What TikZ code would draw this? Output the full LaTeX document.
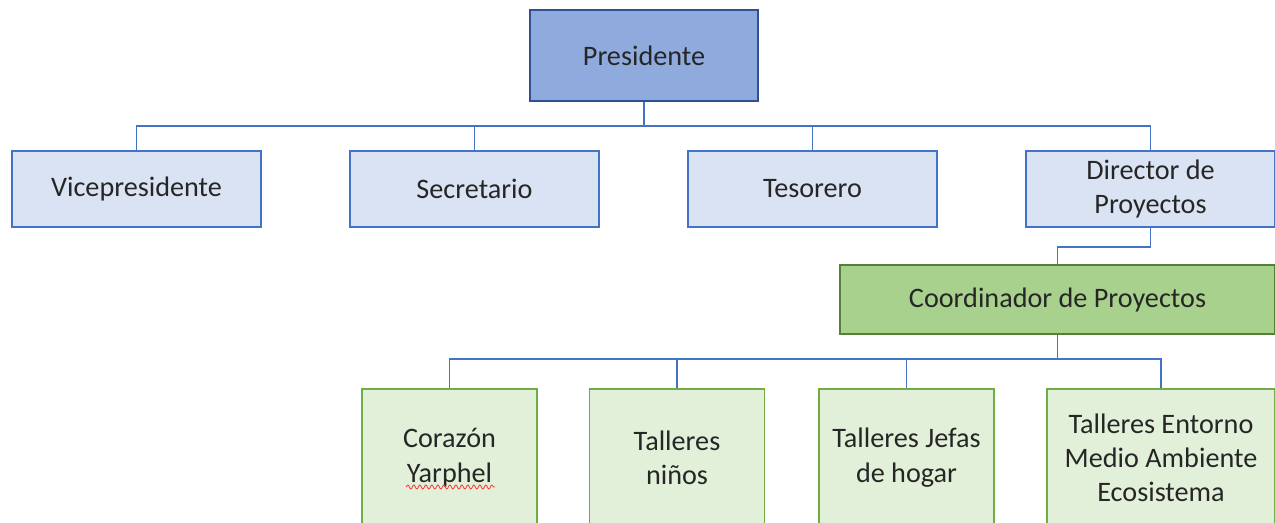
\documentclass[tikz,border=0pt]{standalone}
\usepackage{fontspec}
\setmainfont{Carlito}
\usetikzlibrary{decorations.pathmorphing}
\definecolor{presfill}{HTML}{8FAADC}
\definecolor{presline}{HTML}{2F528F}
\definecolor{bluefill}{HTML}{DAE3F3}
\definecolor{blueline}{HTML}{4472C4}
\definecolor{coordfill}{HTML}{A9D18E}
\definecolor{coordline}{HTML}{548235}
\definecolor{leaffill}{HTML}{E2F0D9}
\definecolor{leafline}{HTML}{70AD47}
\definecolor{txt}{HTML}{262626}

\begin{document}
\begin{tikzpicture}[x=0.5pt,y=-0.5pt,
    box/.style={draw, line width=0.8pt, align=center, inner sep=0pt, text=txt,
        font=\fontsize{14.1}{17.2}\selectfont},
    top/.style={box, fill=presfill, draw=presline, minimum width=114pt, minimum height=45.5pt},
    staff/.style={box, fill=bluefill, draw=blueline, minimum width=124.5pt, minimum height=38pt},
    mid/.style={box, fill=coordfill, draw=coordline, minimum width=217.5pt, minimum height=34.5pt},
    leaf/.style={box, fill=leaffill, draw=leafline, minimum width=87.5pt, minimum height=69pt, anchor=north},
    link/.style={draw=blueline, line width=0.75pt}]
    \path[use as bounding box, clip] (0,0) rectangle (1275,523);
    \fill[white] (0,0) rectangle (1275,523);

    \node[top] (pres) at (644,55.5) {Presidente};
    \node[staff] (vp) at (136.5,189) {Vicepresidente};
    \node[staff] (sec) at (474.5,189) {Secretario};
    \node[staff] (tes) at (812.5,189) {Tesorero};
    \node[staff] (dir) at (1150.5,189) {Director de\\Proyectos};
    \node[mid] (coord) at (1057.5,299.5) {Coordinador de Proyectos};

    \node[leaf] (cor) at (449.5,388) {Corazón\\Yarphel};
    \node[leaf] (nin) at (677,388) {Talleres\\niños};
    \node[leaf] (jef) at (906.5,388) {Talleres Jefas\\de hogar};
    \node[leaf, minimum width=114pt] (ent) at (1161,388) {Talleres Entorno\\Medio Ambiente\\Ecosistema};

    \coordinate (bus1) at (644,126);
    \coordinate (bus2) at (1057.5,359);
    \draw[link] (pres.south) -- (bus1);
    \foreach \n in {vp,sec,tes,dir}
        \draw[link] (\n.north) |- (bus1);
    \draw[link] (dir.south) -- ++(0,19) -| (coord.north);
    \draw[link] (coord.south) -- (bus2);
    \foreach \n in {cor,nin,jef,ent}
        \draw[link] (\n.north) |- (bus2);

    \draw[red!80, line width=0.4pt, decorate, decoration={snake, amplitude=1pt, segment length=3pt}]
    (406,487) -- (495,487);
\end{tikzpicture}
\end{document}
